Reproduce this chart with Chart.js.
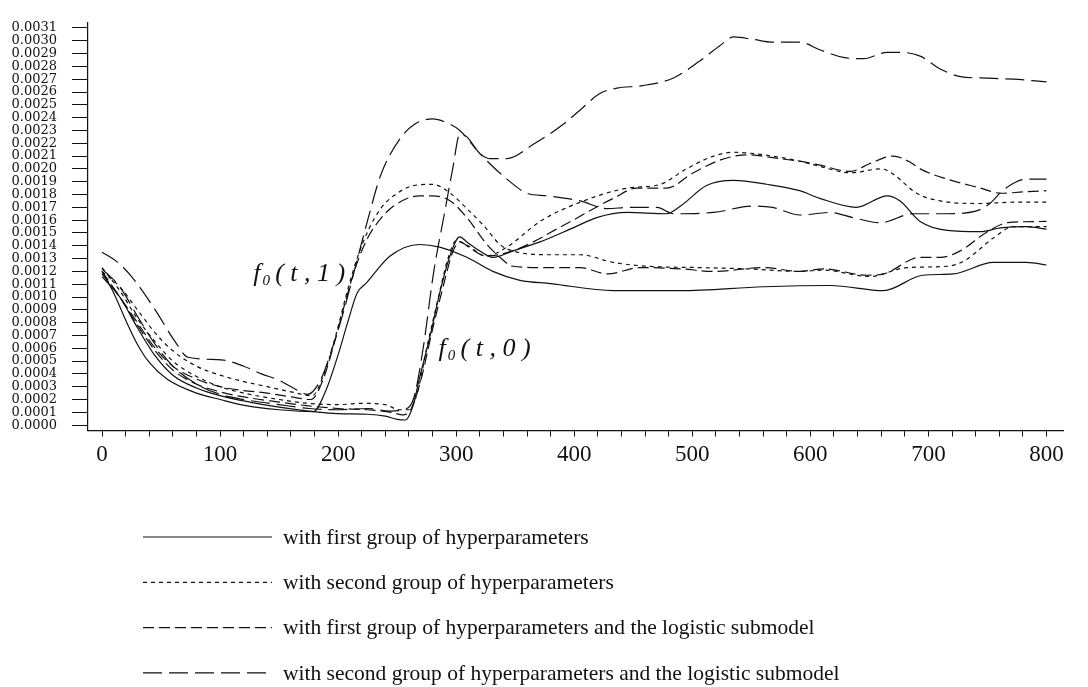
<!DOCTYPE html>
<html>
<head>
<meta charset="utf-8">
<script src="https://cdn.jsdelivr.net/npm/chart.js@4.4.1/dist/chart.umd.min.js"></script>
<style>
html,body{margin:0;padding:0;background:#fff;}
#wrap{width:1088px;height:687px;position:relative;}
</style>
</head>
<body>
<div id="wrap"><canvas id="c"></canvas></div>
<script>
// ---- tick labels ----
const xTickValues = [0,100,200,300,400,500,600,700,800];
const xTickLabels = ['0','100','200','300','400','500','600','700','800'];
const yTickLabels = ['0.0000','0.0001','0.0002','0.0003','0.0004','0.0005','0.0006','0.0007','0.0008','0.0009',
  '0.0010','0.0011','0.0012','0.0013','0.0014','0.0015','0.0016','0.0017','0.0018','0.0019',
  '0.0020','0.0021','0.0022','0.0023','0.0024','0.0025','0.0026','0.0027','0.0028','0.0029',
  '0.0030','0.0031'];

// ---- legend labels ----
const legendLabels = [
  'with first group of hyperparameters',
  'with second group of hyperparameters',
  'with first group of hyperparameters and the logistic submodel',
  'with second group of hyperparameters and the logistic submodel'
];

// ---- series: [t, value] ----
// f0(t,1) curves
const firstGroup_f1 = [[0,0.00120],[10,0.00103],[20,0.00082],[30,0.00063],[40,0.00049],[55,0.00036],[80,0.00025],[100,0.00020],[123,0.00015],[150,0.00012],[179,0.000105],[190,0.00028],[200,0.00055],[208,0.00080],[216,0.00103],[224,0.00111],[244,0.00132],[269,0.00141],[286,0.00139],[309,0.00131],[331,0.00120],[354,0.00113],[380,0.001105],[433,0.00105],[490,0.00105],[560,0.00108],[617,0.00109],[662,0.00105],[695,0.00117],[721,0.00118],[755,0.00127],[783,0.00127],[800,0.00125]];
const secondGroup_f1 = [[0,0.00120],[15,0.00108],[30,0.00090],[45,0.00072],[60,0.00058],[80,0.00046],[100,0.00039],[120,0.00034],[140,0.00030],[160,0.00026],[178,0.00023],[188,0.00040],[198,0.00070],[207,0.00102],[216,0.00130],[226,0.00153],[236,0.00169],[247,0.00179],[264,0.00187],[280,0.00188],[295,0.00181],[309,0.00169],[323,0.00156],[337,0.00141],[348,0.00136],[377,0.00133],[405,0.00133],[433,0.00127],[462,0.00124],[504,0.00123],[546,0.00122],[591,0.00120],[611,0.00121],[650,0.00116],[682,0.00123],[716,0.00124],[730,0.00128],[755,0.00146],[772,0.00155],[800,0.00155]];
const firstLogistic_f1 = [[0,0.00118],[15,0.00100],[30,0.00080],[45,0.00060],[60,0.00046],[80,0.00036],[100,0.00030],[120,0.00027],[140,0.00025],[160,0.00022],[177,0.00020],[187,0.00035],[197,0.00065],[206,0.00096],[215,0.00124],[225,0.00146],[235,0.00160],[247,0.00171],[269,0.00179],[280,0.00179],[295,0.00175],[309,0.00162],[326,0.00141],[337,0.00131],[348,0.00124],[377,0.00123],[405,0.00123],[428,0.00118],[456,0.00123],[490,0.00122],[518,0.00120],[560,0.00123],[591,0.00120],[611,0.00122],[648,0.00117],[662,0.00118],[693,0.00131],[710,0.00131],[727,0.00136],[750,0.00151],[767,0.00158],[800,0.00159]];
const secondLogistic_f1 = [[0,0.00135],[12,0.00128],[25,0.00116],[45,0.00090],[62,0.00065],[73,0.00053],[101,0.00051],[120,0.00046],[135,0.00040],[150,0.00035],[162,0.00029],[174,0.00024],[185,0.00035],[195,0.00060],[205,0.00090],[215,0.00125],[225,0.00160],[236,0.00195],[252,0.00223],[265,0.00235],[280,0.00239],[292,0.00236],[303,0.00230],[320,0.00212],[343,0.00192],[360,0.00181],[377,0.00179],[405,0.00175],[428,0.00169],[447,0.00170],[470,0.00170],[484,0.00165],[518,0.00166],[551,0.00171],[568,0.00170],[591,0.00164],[617,0.00166],[636,0.00162],[659,0.00158],[687,0.00165],[716,0.00165],[740,0.00167],[752,0.00173],[764,0.00184],[783,0.00192],[800,0.00192]];
// f0(t,0) curves
const firstGroup_f0 = [[0,0.00116],[15,0.00100],[30,0.00076],[45,0.00054],[60,0.00039],[80,0.00029],[100,0.00023],[125,0.00018],[150,0.00014],[175,0.00011],[200,0.00009],[225,0.000085],[240,0.00007],[250,0.000045],[257,0.00004],[263,0.00014],[269,0.00037],[278,0.00070],[286,0.00103],[295,0.00133],[303,0.00147],[309,0.00143],[320,0.00136],[331,0.00131],[348,0.00136],[371,0.00143],[399,0.00154],[419,0.00162],[445,0.00166],[478,0.00165],[490,0.00171],[512,0.00187],[535,0.00191],[563,0.00188],[591,0.00183],[608,0.00177],[639,0.00170],[665,0.00179],[676,0.00175],[693,0.00159],[716,0.00152],[744,0.00151],[761,0.00154],[783,0.00155],[800,0.00153]];
const secondGroup_f0 = [[0,0.00123],[15,0.00105],[30,0.00083],[45,0.00065],[60,0.00050],[80,0.00038],[100,0.00030],[120,0.00025],[150,0.00020],[175,0.00017],[200,0.00016],[220,0.00017],[240,0.00016],[252,0.00012],[260,0.00012],[267,0.00025],[275,0.00060],[285,0.00100],[293,0.00130],[300,0.00144],[310,0.00140],[325,0.00132],[343,0.00139],[371,0.00159],[405,0.00174],[445,0.00185],[473,0.00188],[495,0.00200],[518,0.00210],[535,0.00213],[560,0.00211],[591,0.00206],[608,0.00202],[634,0.00197],[660,0.00200],[670,0.00196],[690,0.00181],[710,0.00175],[744,0.00173],[772,0.00174],[800,0.00174]];
const firstLogistic_f0 = [[0,0.00120],[15,0.00100],[30,0.00078],[45,0.00058],[60,0.00043],[80,0.00032],[100,0.00026],[120,0.00022],[150,0.00018],[175,0.00015],[200,0.00013],[225,0.00012],[245,0.00010],[255,0.00008],[262,0.00013],[270,0.00035],[280,0.00075],[290,0.00112],[297,0.00135],[303,0.00143],[312,0.00138],[325,0.00132],[348,0.00136],[391,0.00156],[433,0.00177],[453,0.00185],[478,0.00185],[501,0.00197],[524,0.00207],[546,0.00211],[574,0.00208],[591,0.00206],[608,0.00203],[634,0.00198],[650,0.00204],[670,0.00210],[685,0.00205],[693,0.00200],[716,0.00192],[744,0.00185],[761,0.00181],[780,0.00182],[800,0.00183]];
const secondLogistic_f0 = [[0,0.00122],[15,0.00108],[30,0.00085],[45,0.00063],[60,0.00046],[80,0.00032],[100,0.00024],[120,0.00020],[150,0.00016],[175,0.00013],[200,0.00012],[225,0.00013],[244,0.00011],[255,0.00012],[264,0.00021],[272,0.00060],[281,0.00120],[290,0.00165],[297,0.00200],[303,0.00227],[309,0.00225],[320,0.00212],[329,0.00208],[343,0.00208],[365,0.00219],[391,0.00235],[405,0.00246],[422,0.00259],[436,0.00263],[458,0.00265],[484,0.00271],[506,0.00284],[523,0.00296],[535,0.00303],[552,0.00301],[568,0.00299],[591,0.00299],[608,0.00293],[628,0.00287],[645,0.00286],[665,0.00291],[676,0.00291],[693,0.00288],[710,0.00278],[727,0.00272],[744,0.00271],[772,0.00270],[800,0.00268]];

// annotation anchors (data coordinates)
const annotations = [
  {t: 128, v: 0.001128, arg: '1'},
  {t: 285, v: 0.000541, arg: '0'}
];

// ---- styles ----
const dashStyles = [[], [4,4], [11,5], [19,7]];
const seriesList = [
  {data: firstGroup_f1, style: 0}, {data: firstGroup_f0, style: 0},
  {data: secondGroup_f1, style: 1}, {data: secondGroup_f0, style: 1},
  {data: firstLogistic_f1, style: 2}, {data: firstLogistic_f0, style: 2},
  {data: secondLogistic_f1, style: 3}, {data: secondLogistic_f0, style: 3}
];

const datasets = seriesList.map(s => ({
  label: legendLabels[s.style],
  data: s.data.map(p => ({x: p[0], y: p[1]})),
  borderColor: '#111',
  borderWidth: 1.2,
  borderDash: dashStyles[s.style],
  pointRadius: 0,
  fill: false,
  cubicInterpolationMode: 'monotone'
}));

const xMinorTicks = [];
for (let v = 0; v <= 800; v += 20) xMinorTicks.push(v);

const overlayPlugin = {
  id: 'overlay',
  afterDraw(chart) {
    const ctx = chart.ctx;
    const xs = chart.scales.x, ys = chart.scales.y;
    ctx.save();
    ctx.fillStyle = '#111';
    ctx.strokeStyle = '#111';
    // annotations f0(t,1), f0(t,0)
    annotations.forEach(a => {
      const x = xs.getPixelForValue(a.t);
      const y = ys.getPixelForValue(a.v);
      ctx.textBaseline = 'alphabetic';
      ctx.textAlign = 'left';
      ctx.font = 'italic 26px "Liberation Serif"';
      if ('letterSpacing' in ctx) ctx.letterSpacing = '0px';
      ctx.fillText('f', x, y);
      const wf = ctx.measureText('f').width;
      ctx.font = 'italic 15px "Liberation Serif"';
      ctx.fillText('0', x + wf + 2, y + 4);
      ctx.font = 'italic 26px "Liberation Serif"';
      if ('letterSpacing' in ctx) ctx.letterSpacing = '6.5px';
      ctx.fillText('(t,' + a.arg + ')', x + 22, y);
      if ('letterSpacing' in ctx) ctx.letterSpacing = '0px';
    });
    // legend
    ctx.font = '21.5px "Liberation Serif"';
    ctx.textBaseline = 'middle';
    legendLabels.forEach((lab, i) => {
      const y = 537 + i * 45.3;
      ctx.beginPath();
      ctx.lineWidth = 1.2;
      ctx.setLineDash(dashStyles[i]);
      ctx.moveTo(143, y);
      ctx.lineTo(272, y);
      ctx.stroke();
      ctx.setLineDash([]);
      ctx.fillText(lab, 283, y + 1);
    });
    ctx.restore();
  }
};

new Chart(document.getElementById('c'), {
  type: 'line',
  data: {datasets},
  options: {
    responsive: true,
    maintainAspectRatio: false,
    animation: false,
    layout: {padding: {top: 13, right: 25, left: 0, bottom: 0}},
    plugins: {legend: {display: false}, tooltip: {enabled: false}},
    scales: {
      x: {
        type: 'linear', min: -11.9, max: 814,
        afterBuildTicks: s => { s.ticks = xMinorTicks.map(v => ({value: v})); },
        afterFit: s => { s.height = 256.5; },
        grid: {drawOnChartArea: false, drawTicks: true, tickLength: 6, color: '#111'},
        border: {display: true, color: '#111', width: 1.2},
        ticks: {
          autoSkip: false, maxRotation: 0, minRotation: 0, padding: 5, color: '#111',
          font: {family: '"Liberation Serif"', size: 23},
          callback: v => { const i = xTickValues.indexOf(v); return i >= 0 ? xTickLabels[i] : ''; }
        }
      },
      y: {
        type: 'linear', min: -0.0000419, max: 0.0031404,
        afterBuildTicks: s => { s.ticks = yTickLabels.map(l => ({value: parseFloat(l)})); },
        afterFit: s => { s.width = 88; },
        grid: {drawOnChartArea: false, drawTicks: true, tickLength: 16, color: '#111'},
        border: {display: true, color: '#111', width: 1.2},
        ticks: {
          autoSkip: false, padding: 15, color: '#111',
          font: {family: '"DejaVu Serif"', size: 13},
          callback: (v, i) => yTickLabels[i]
        }
      }
    }
  },
  plugins: [overlayPlugin]
});
</script>
</body>
</html>
